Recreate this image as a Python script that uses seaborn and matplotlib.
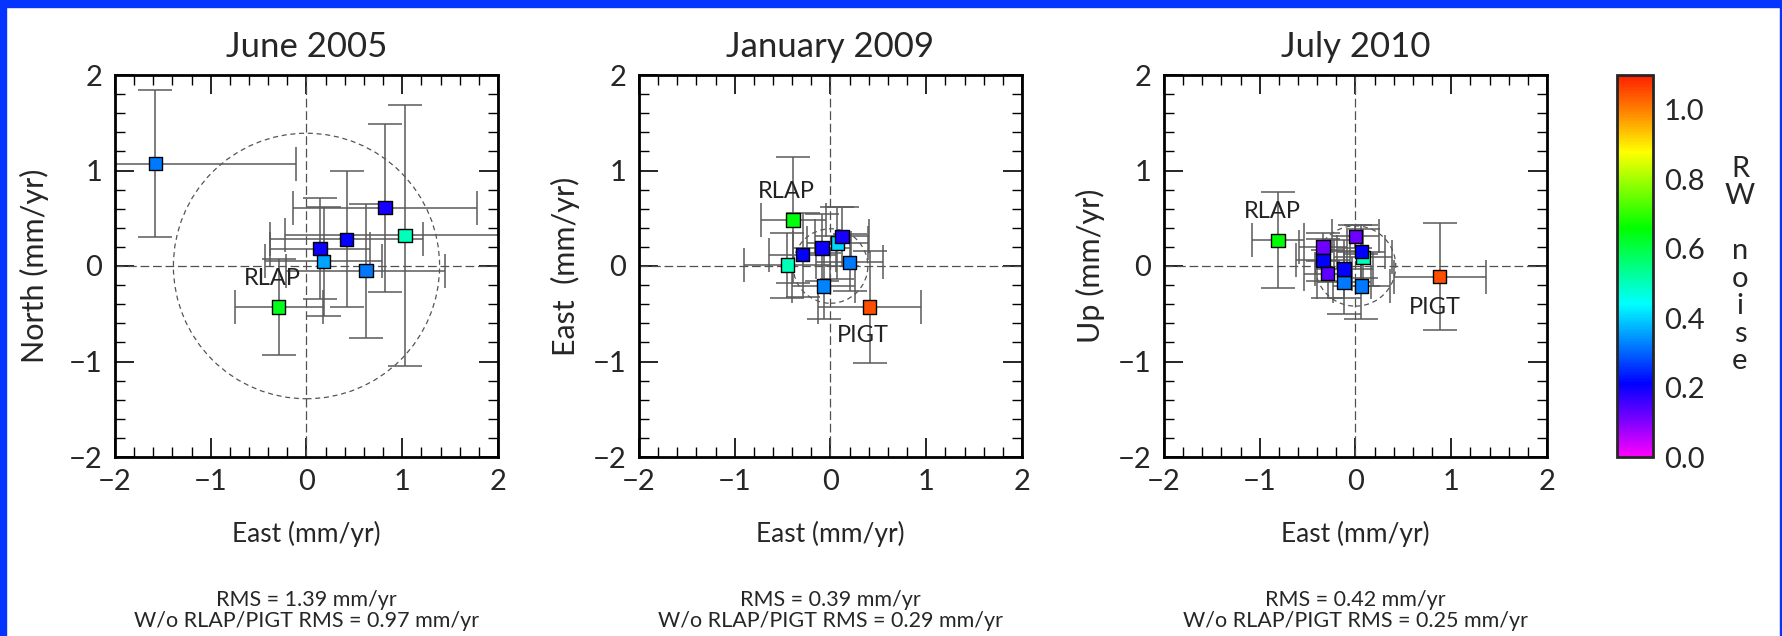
import numpy as np
import pandas as pd
import matplotlib
matplotlib.use("Agg")
import matplotlib.pyplot as plt
import seaborn as sns
from matplotlib.colors import LinearSegmentedColormap, Normalize
from matplotlib.patches import Circle, Rectangle
from matplotlib.ticker import MultipleLocator
import matplotlib.cm as cm

# ---------------- data ----------------
titles = ["June 2005", "January 2009", "July 2010"]
ylabels = ["North (mm/yr)", "East  (mm/yr)", "Up (mm/yr)"]
xlabel = "East (mm/yr)"
rms = [1.39, 0.39, 0.42]
rms_wo = [0.97, 0.29, 0.25]

p1_east = [-1.58, -0.29, 0.14, 0.18, 0.42, 0.62, 0.82, 1.03]
p1_val = [1.07, -0.43, 0.18, 0.05, 0.28, -0.05, 0.61, 0.32]
p1_xerr = [1.47, 0.46, 0.52, 0.61, 0.80, 0.83, 0.96, 1.25]
p1_yerr = [0.77, 0.50, 0.53, 0.57, 0.71, 0.70, 0.88, 1.37]
p1_rw = [0.32, 0.64, 0.20, 0.36, 0.21, 0.32, 0.19, 0.50]

p2_east = [-0.39, -0.45, -0.29, -0.09, 0.07, 0.12, 0.20, -0.07, 0.41]
p2_val = [0.48, 0.01, 0.12, 0.19, 0.24, 0.31, 0.04, -0.21, -0.43]
p2_xerr = [0.34, 0.45, 0.35, 0.30, 0.32, 0.28, 0.35, 0.33, 0.54]
p2_yerr = [0.66, 0.34, 0.44, 0.35, 0.38, 0.31, 0.30, 0.35, 0.59]
p2_rw = [0.65, 0.50, 0.21, 0.20, 0.40, 0.19, 0.32, 0.33, 1.05]

p3_east = [-0.81, 0.88, 0.00, -0.34, -0.34, -0.29, 0.08, 0.06, -0.12, -0.12, 0.06]
p3_val = [0.27, -0.11, 0.31, 0.20, 0.06, -0.08, 0.09, 0.15, -0.17, -0.03, -0.21]
p3_xerr = [0.27, 0.48, 0.25, 0.25, 0.28, 0.25, 0.30, 0.25, 0.28, 0.30, 0.30]
p3_yerr = [0.50, 0.56, 0.12, 0.15, 0.22, 0.25, 0.30, 0.28, 0.33, 0.30, 0.34]
p3_rw = [0.66, 1.05, 0.12, 0.12, 0.21, 0.13, 0.50, 0.21, 0.32, 0.21, 0.32]

# station labels: (panel, text, east, value)
site_labels = [
    (0, "RLAP", -0.36, -0.13),
    (1, "RLAP", -0.46, 0.78),
    (1, "PIGT", 0.34, -0.73),
    (2, "RLAP", -0.87, 0.57),
    (2, "PIGT", 0.83, -0.43),
]

cbar_ticks = [0.0, 0.2, 0.4, 0.6, 0.8, 1.0]
cbar_label = "R\nW\n\nn\no\ni\ns\ne"

# ---------------- style ----------------
sns.set_style("ticks")
plt.rcParams["font.family"] = ["Lato", "DejaVu Sans"]
plt.rcParams["axes.unicode_minus"] = True

cmap = LinearSegmentedColormap.from_list(
    "rw",
    [(0.0, "#ff00ff"), (0.10 / 1.1, "#8000ff"), (0.21 / 1.1, "#0000ff"),
     (0.44 / 1.1, "#00ffff"), (0.66 / 1.1, "#00ff00"), (0.88 / 1.1, "#ffff00"),
     (1.0 / 1.1, "#ff8000"), (1.0, "#ff2000")])
norm = Normalize(vmin=0.0, vmax=1.1)

W, H = 1783, 636
fig = plt.figure(figsize=(W / 100, H / 100), dpi=100)

# blue frame
blue = "#0534ff"
fig.patches.append(Rectangle((0, 1 - 7 / H), 1, 7 / H, transform=fig.transFigure, color=blue, zorder=-5))
fig.patches.append(Rectangle((0, 0), 6 / W, 1, transform=fig.transFigure, color=blue, zorder=-5))
fig.patches.append(Rectangle((1 - 3 / W, 0), 3 / W, 1, transform=fig.transFigure, color=blue, zorder=-5))

ax_w = 383 / W
ax_h = 382 / H
ax_b = 1 - 457 / H
lefts = [115 / W, 639 / W, 1164 / W]
ylab_x = [-81 / 383, -74 / 383, -74 / 383]

panels = [
    (p1_east, p1_val, p1_xerr, p1_yerr, p1_rw),
    (p2_east, p2_val, p2_xerr, p2_yerr, p2_rw),
    (p3_east, p3_val, p3_xerr, p3_yerr, p3_rw),
]

for i, (ex, vy, xe, ye, rw) in enumerate(panels):
    ax = fig.add_axes([lefts[i], ax_b, ax_w, ax_h])
    df = pd.DataFrame({"east": ex, "val": vy, "xerr": xe, "yerr": ye, "rw": rw})
    ax.axhline(0, color="#505050", lw=0.9, ls=(0, (7, 3)), zorder=1)
    ax.axvline(0, color="#505050", lw=0.9, ls=(0, (7, 3)), zorder=1)
    ax.add_patch(Circle((0, 0), rms[i], fill=False, ec="#555555", lw=0.9,
                        ls=(0, (4, 3)), zorder=1))
    ax.errorbar(df["east"], df["val"], xerr=df["xerr"], yerr=df["yerr"],
                fmt="none", ecolor="#5a5a5a", elinewidth=1.1, capsize=12,
                capthick=1.1, zorder=2)
    sns.scatterplot(data=df, x="east", y="val", hue="rw", palette=cmap,
                    hue_norm=norm, marker="s", s=92, edgecolor="black",
                    linewidth=1.0, legend=False, ax=ax, zorder=3)
    for (pi, txt, tx, ty) in site_labels:
        if pi == i:
            ax.text(tx, ty, txt, ha="center", va="center", fontsize=17,
                    color="#222222", zorder=4)
    ax.set_xlim(-2, 2)
    ax.set_ylim(-2, 2)
    ax.xaxis.set_major_locator(MultipleLocator(1))
    ax.yaxis.set_major_locator(MultipleLocator(1))
    ax.xaxis.set_minor_locator(MultipleLocator(0.2))
    ax.yaxis.set_minor_locator(MultipleLocator(0.2))
    ax.tick_params(which="both", direction="in", top=True, right=True,
                   bottom=True, left=True, color="black")
    ax.tick_params(which="major", length=13.5, width=1.2, labelsize=21, pad=9)
    ax.tick_params(which="minor", length=7, width=1.0)
    for sp in ax.spines.values():
        sp.set_linewidth(2.0)
        sp.set_color("black")
    ax.set_xlabel(xlabel, fontsize=19, va="center")
    ax.xaxis.set_label_coords(0.5, -77 / 382)
    ax.set_ylabel(ylabels[i], fontsize=22, va="center")
    ax.yaxis.set_label_coords(ylab_x[i], 0.5)
    ax.set_title(titles[i], fontsize=25, pad=13)
    cx = lefts[i] + ax_w / 2
    fig.text(cx, 1 - 600 / H, f"RMS = {rms[i]:.2f} mm/yr", ha="center",
             va="center", fontsize=15.5)
    fig.text(cx, 1 - 621 / H, f"W/o RLAP/PIGT RMS = {rms_wo[i]:.2f} mm/yr",
             ha="center", va="center", fontsize=15.5)

# colorbar
cax = fig.add_axes([1617 / W, ax_b, 36 / W, ax_h])
sm = cm.ScalarMappable(norm=norm, cmap=cmap)
cb = fig.colorbar(sm, cax=cax, ticks=cbar_ticks)
cb.ax.set_yticklabels([f"{t:.1f}" for t in cbar_ticks])
cb.outline.set_linewidth(2.0)
cb.ax.tick_params(direction="in", length=13, width=1.2, labelsize=21, pad=8)
fig.text(1740 / W, 1 - 265 / H, cbar_label, ha="center", va="center",
         fontsize=21, linespacing=1.07)

fig.savefig("out.png", dpi=100)
